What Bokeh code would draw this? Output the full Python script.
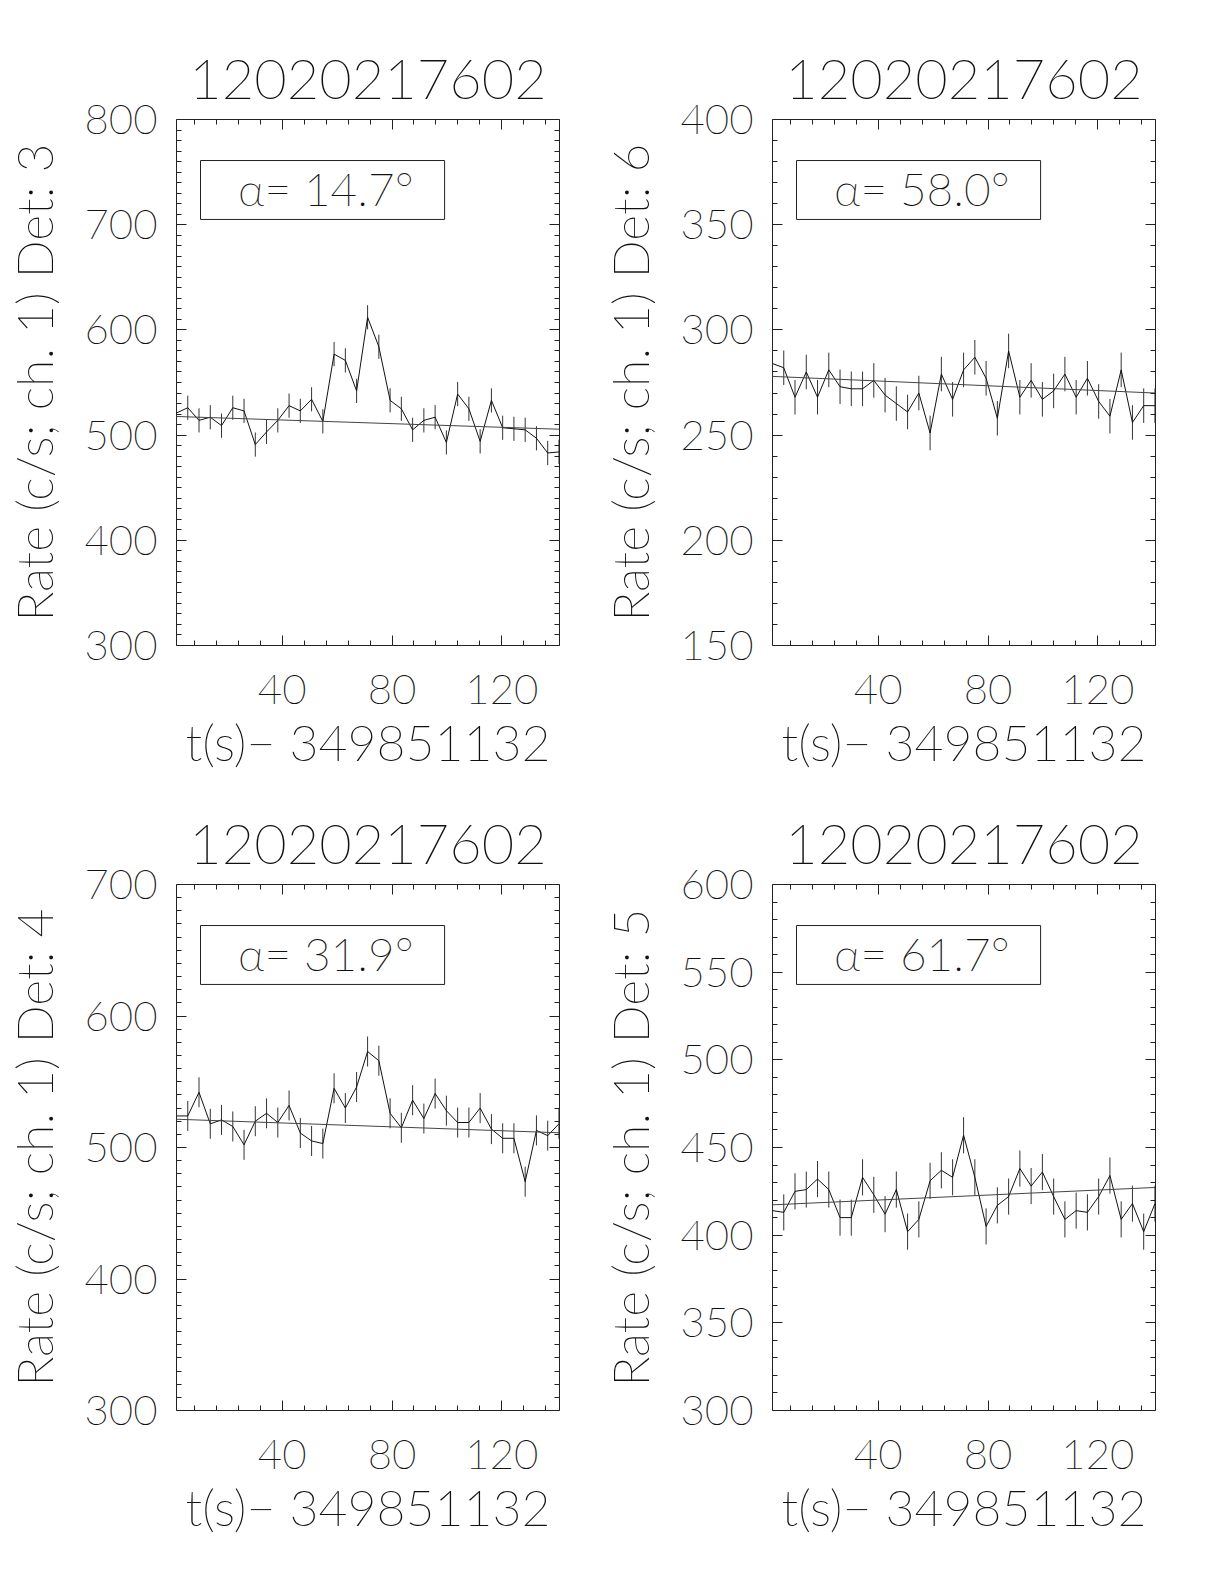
from bokeh.plotting import figure
from bokeh.models import Range1d, FixedTicker, LinearAxis, BoxAnnotation, Label, ColumnDataSource
from bokeh.layouts import column, row
from bokeh.embed import file_html
from bokeh.resources import INLINE
import numpy as np

# ---- data ----
obs_id = "12020217602"
t0_label = "t(s)\u2212 349851132"

t_s = [1.5, 5.6, 9.7, 13.8, 17.9, 22.0, 26.1, 30.2, 34.3, 38.4, 42.5, 46.6,
       50.7, 54.8, 58.9, 63.0, 67.1, 71.1, 75.2, 79.3, 83.4, 87.5, 91.6, 95.7,
       99.8, 103.9, 108.0, 112.1, 116.2, 120.3, 124.4, 128.5, 132.6, 136.7, 140.8]

rate_det3 = [521, 526, 514, 517, 509, 526, 523, 491, 503, 514, 528, 523,
             534, 513, 577, 571, 542, 612, 584, 533, 525, 505, 514, 517,
             493, 539, 525, 494, 533, 507, 506, 505, 497, 483, 484]
rate_det6 = [284, 282, 268, 280, 268, 281, 273, 272, 272, 276, 269, 265,
             261, 270, 251, 279, 267, 281, 287, 277, 258, 290, 268, 276,
             267, 271, 279, 268, 277, 266, 259, 281, 256, 264, 264]
rate_det4 = [524, 524, 542, 518, 521, 516, 502, 520, 526, 519, 532, 511,
             505, 503, 545, 530, 546, 573, 566, 526, 515, 536, 522, 541,
             528, 519, 519, 530, 514, 507, 507, 474, 513, 509, 518]
rate_det5 = [414, 413, 425, 426, 432, 426, 410, 410, 433, 423, 412, 426,
             402, 409, 431, 437, 433, 457, 433, 405, 417, 422, 438, 428,
             436, 422, 409, 414, 413, 422, 434, 409, 418, 402, 418]

err_det3 = 11.5
err_det6 = 8.2
err_det4 = 11.4
err_det5 = 10.3

fit_det3 = [517.7, 505.6]
fit_det6 = [277.9, 270.0]
fit_det4 = [521.5, 511.2]
fit_det5 = [417.3, 427.2]

alpha_det3 = 14.7
alpha_det6 = 58.0
alpha_det4 = 31.9
alpha_det5 = 61.7

yrange_det3 = [300, 800, 100]
yrange_det6 = [150, 400, 50]
yrange_det4 = [300, 700, 100]
yrange_det5 = [300, 600, 50]

x_major = [40, 80, 120]

FONT = "Lato Thin"
TXT = "#111111"


def make_panel(det, rates, err, fit, alpha, yr, top_border):
    ymin, ymax, ystep = yr
    p = figure(frame_width=383, frame_height=526, output_backend="svg", toolbar_location=None,
               min_border_left=176, min_border_right=37,
               min_border_top=top_border, min_border_bottom=150,
               x_range=Range1d(t_s[0], 141.0), y_range=Range1d(ymin, ymax),
               x_axis_type=None, y_axis_type=None)
    p.background_fill_color = "white"
    p.border_fill_color = "white"
    p.grid.visible = False
    p.outline_line_color = "#222222"
    p.outline_line_width = 1

    x_minor = [v for v in range(8, 141, 8) if v not in x_major]
    xt = FixedTicker(ticks=x_major, minor_ticks=x_minor)
    y_major = list(range(ymin, ymax + 1, ystep))
    y_minor = [v for v in range(ymin, ymax + 1, 10) if v not in y_major]
    yt = FixedTicker(ticks=y_major, minor_ticks=y_minor)

    def style(ax, labels):
        ax.axis_line_color = None
        ax.major_tick_in = 10
        ax.major_tick_out = 0
        ax.minor_tick_in = 5
        ax.minor_tick_out = 0
        ax.major_tick_line_color = "#222222"
        ax.minor_tick_line_color = "#222222"
        if labels:
            ax.major_label_text_font = FONT
            ax.major_label_text_font_size = "42px"
            ax.major_label_text_color = TXT
            ax.axis_label_text_font = FONT
            ax.axis_label_text_font_style = "normal"
            ax.axis_label_text_color = TXT
        else:
            ax.major_label_text_font_size = "0px"
            ax.major_label_text_color = None
            ax.major_label_standoff = 0

    xb = LinearAxis(ticker=xt, axis_label=t0_label)
    style(xb, True)
    xb.major_label_standoff = 29
    xb.axis_label_text_font_size = "50px"
    xb.axis_label_standoff = 5
    p.add_layout(xb, "below")

    xa = LinearAxis(ticker=xt)
    style(xa, False)
    p.add_layout(xa, "above")

    yl = LinearAxis(ticker=yt, axis_label="Rate (c/s; ch. 1) Det: %d" % det)
    style(yl, True)
    yl.major_label_standoff = 19
    yl.axis_label_text_font_size = "50px"
    yl.axis_label_standoff = 17
    p.add_layout(yl, "left")

    yr_ax = LinearAxis(ticker=yt)
    style(yr_ax, False)
    p.add_layout(yr_ax, "right")

    p.title.text = obs_id
    p.title.text_font = FONT
    p.title.text_font_size = "56px"
    p.title.text_font_style = "normal"
    p.title.text_color = TXT
    p.title.align = "center"
    p.title.standoff = 42

    t = np.array(t_s)
    r = np.array(rates, dtype=float)
    src = ColumnDataSource(dict(t=t, r=r, lo=r - err, hi=r + err))
    p.segment(x0="t", y0="lo", x1="t", y1="hi", source=src, line_color="#333333", line_width=1)
    p.line(x="t", y="r", source=src, line_color="#111111", line_width=1)
    p.line(x=[t_s[0], t_s[-1]], y=fit, line_color="#444444", line_width=1)

    x0, x1 = p.x_range.start, p.x_range.end
    yspan = ymax - ymin
    box = BoxAnnotation(left=x0 + 0.0627 * (x1 - x0), right=x0 + 0.70 * (x1 - x0),
                        top=ymax - 0.078 * yspan, bottom=ymax - 0.19 * yspan,
                        fill_alpha=0, line_color="#222222", line_alpha=1.0, line_width=1)
    p.add_layout(box)
    lab = Label(x=x0 + 0.39 * (x1 - x0), y=ymax - 0.132 * yspan,
                text="\u03b1= %.1f\u00b0" % alpha, text_font=FONT,
                text_font_size="46px", text_color=TXT,
                text_align="center", text_baseline="middle")
    p.add_layout(lab)
    return p


p1 = make_panel(3, rate_det3, err_det3, fit_det3, alpha_det3, yrange_det3, 119)
p2 = make_panel(6, rate_det6, err_det6, fit_det6, alpha_det6, yrange_det6, 119)
p3 = make_panel(4, rate_det4, err_det4, fit_det4, alpha_det4, yrange_det4, 89)
p4 = make_panel(5, rate_det5, err_det5, fit_det5, alpha_det5, yrange_det5, 89)

layout = column(row(p1, p2), row(p3, p4))
open("out.html", "w").write(file_html(layout, INLINE))
